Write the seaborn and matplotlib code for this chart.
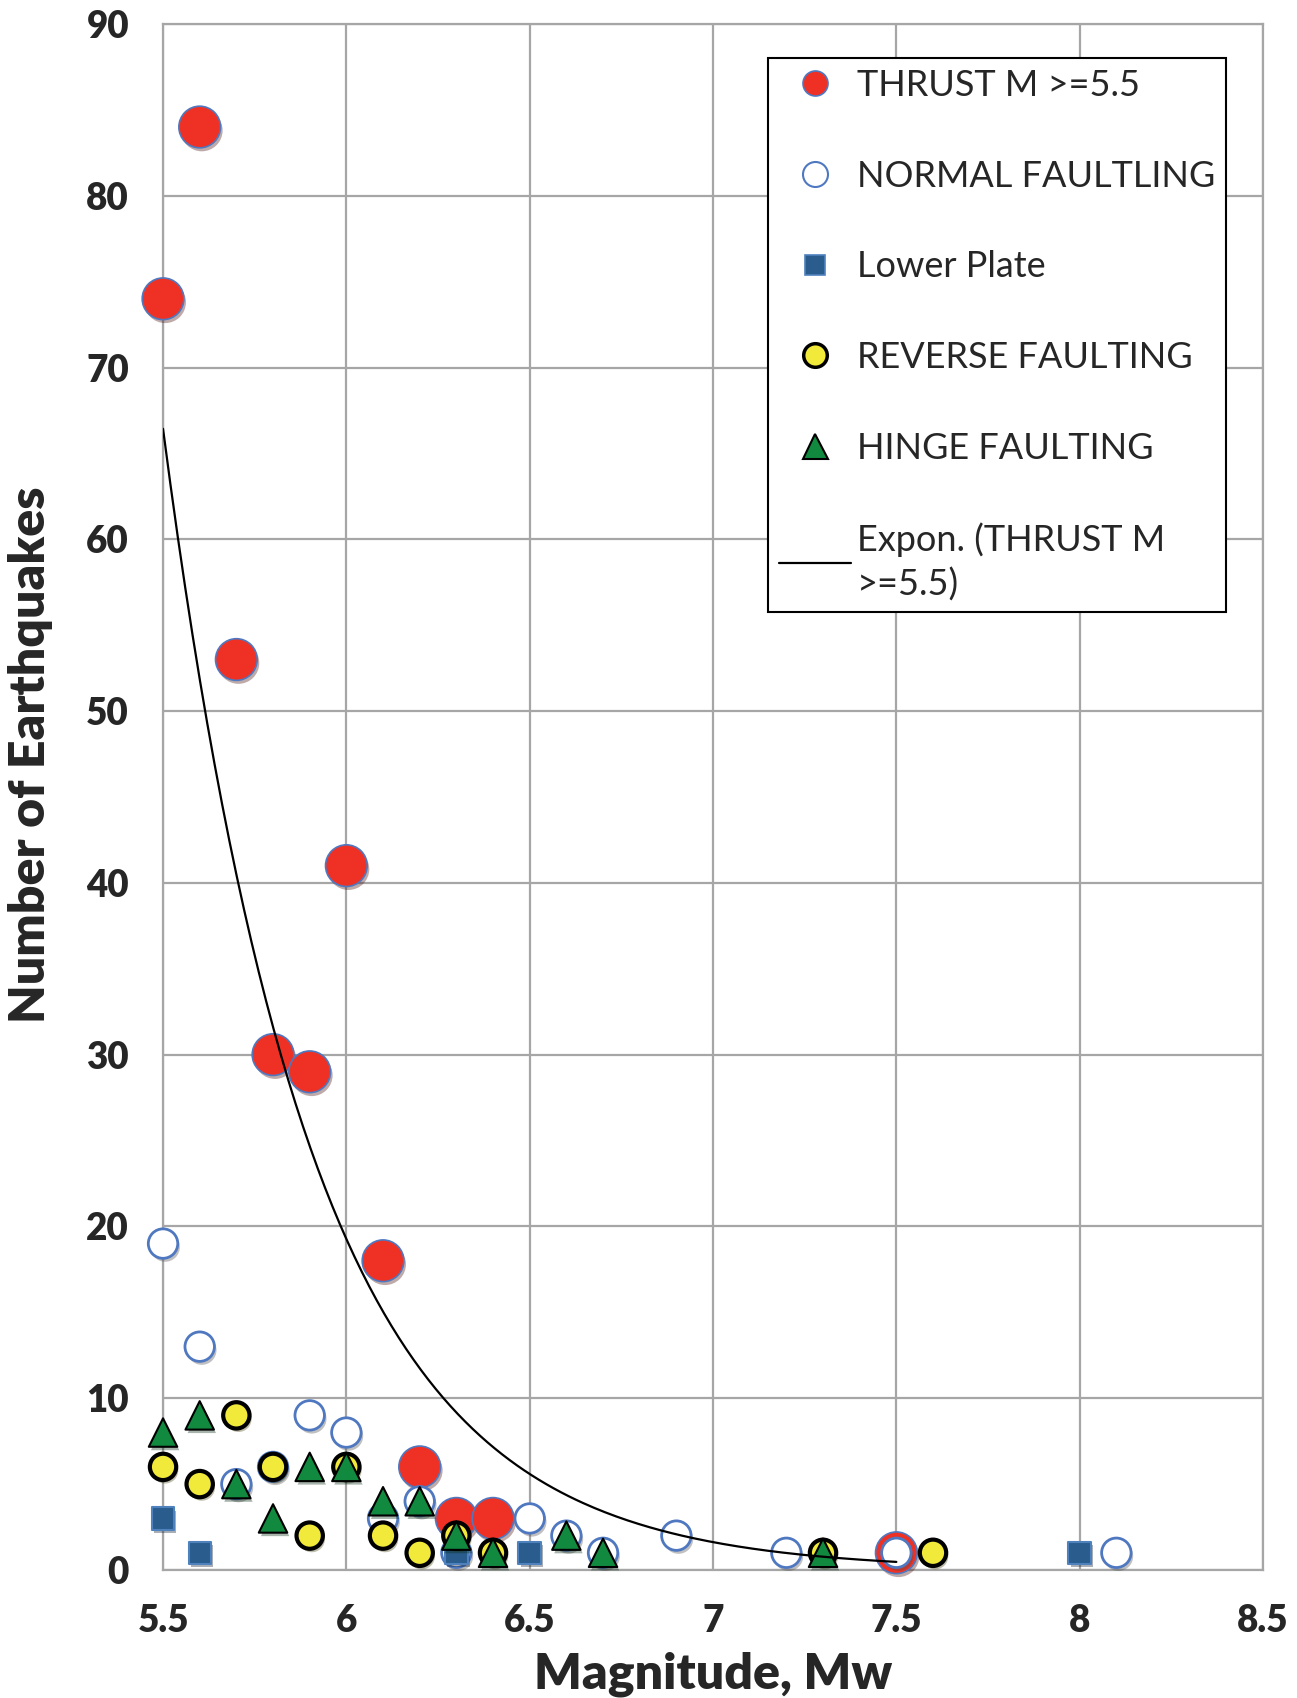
import numpy as np
import pandas as pd
import matplotlib
matplotlib.use("Agg")
import matplotlib.pyplot as plt
import matplotlib.patheffects as pe
from matplotlib.lines import Line2D
import seaborn as sns

# data (magnitude, count)
thrust_mag = [5.5, 5.6, 5.7, 5.8, 5.9, 6.0, 6.1, 6.2, 6.3, 6.4, 7.5]
thrust_n = [74, 84, 53, 30, 29, 41, 18, 6, 3, 3, 1]

normal_mag = [5.5, 5.6, 5.7, 5.8, 5.9, 6.0, 6.1, 6.2, 6.3, 6.5, 6.6, 6.7, 6.9, 7.2, 7.5, 8.1]
normal_n = [19, 13, 5, 6, 9, 8, 3, 4, 1, 3, 2, 1, 2, 1, 1, 1]

lower_mag = [5.5, 5.6, 6.3, 6.5, 8.0]
lower_n = [3, 1, 1, 1, 1]

reverse_mag = [5.5, 5.6, 5.7, 5.8, 5.9, 6.0, 6.1, 6.2, 6.3, 6.4, 7.3, 7.6]
reverse_n = [6, 5, 9, 6, 2, 6, 2, 1, 2, 1, 1, 1]

hinge_mag = [5.5, 5.6, 5.7, 5.8, 5.9, 6.0, 6.1, 6.2, 6.3, 6.4, 6.6, 6.7, 7.3]
hinge_n = [8, 9, 5, 3, 6, 6, 4, 4, 2, 1, 2, 1, 1]

# exponential trendline fitted to thrust points (like Excel's Expon.)
b, ln_a = np.polyfit(thrust_mag, np.log(thrust_n), 1)
fit_x = np.linspace(min(thrust_mag), max(thrust_mag), 200)
fit_y = np.exp(ln_a) * np.exp(b * fit_x)

sns.set_style("white")
plt.rcParams['font.family'] = ['Lato', 'DejaVu Sans']

fig = plt.figure(figsize=(12.97, 16.98), dpi=100)
ax = fig.add_axes([0.1257, 0.0754, 0.8481, 0.9105])

shadow = [pe.SimplePatchShadow(offset=(1.5, -2.5), alpha=0.35), pe.Normal()]

RED = '#EE3124'
BLUE_EDGE = '#4F78C0'
SQ = '#2A5D8E'
YEL = '#F2EA3A'
GRN = '#118A40'

series = [
    (thrust_mag, thrust_n, dict(color=RED, marker='o', s=900, edgecolor=BLUE_EDGE, linewidth=1.2)),
    (normal_mag, normal_n, dict(color='white', marker='o', s=450, edgecolor=BLUE_EDGE, linewidth=2)),
    (lower_mag, lower_n, dict(color=SQ, marker='s', s=260, edgecolor='#4F81BD', linewidth=1.5)),
    (reverse_mag, reverse_n, dict(color=YEL, marker='o', s=360, edgecolor='black', linewidth=3)),
    (hinge_mag, hinge_n, dict(color=GRN, marker='^', s=420, edgecolor='black', linewidth=1.5)),
]
for i, (xs, ys, kw) in enumerate(series):
    df = pd.DataFrame({'Mw': xs, 'N': ys})
    sns.scatterplot(data=df, x='Mw', y='N', ax=ax, clip_on=False, zorder=3 + i, legend=False, **kw)
    ax.collections[-1].set_path_effects(shadow)

sns.lineplot(x=fit_x, y=fit_y, ax=ax, color='black', linewidth=1.6, zorder=10)

ax.set_xlim(5.5, 8.5)
ax.set_ylim(0, 90)
ax.set_xticks(np.arange(5.5, 8.51, 0.5))
ax.set_xticklabels(['5.5', '6', '6.5', '7', '7.5', '8', '8.5'])
ax.set_yticks(range(0, 91, 10))
ax.grid(True, color='#A6A6A6', linewidth=1.6)
ax.set_axisbelow(True)
for sp in ax.spines.values():
    sp.set_color('#A6A6A6')
    sp.set_linewidth(1.6)
ax.tick_params(axis='both', direction='out', length=9.5, width=1.6, color='#A6A6A6',
               labelsize=26.5, pad=15)
for lab in ax.get_xticklabels() + ax.get_yticklabels():
    lab.set_fontweight('heavy')

ax.set_xlabel('Magnitude, Mw', fontsize=36, fontweight='heavy')
ax.set_ylabel('Number of Earthquakes', fontsize=36, fontweight='heavy')
ax.xaxis.set_label_coords(0.5, -0.053)
ax.yaxis.set_label_coords(-0.1, 0.527)

handles = [
    Line2D([], [], ls='none', marker='o', ms=18, mfc=RED, mec=BLUE_EDGE, mew=1.2),
    Line2D([], [], ls='none', marker='o', ms=18, mfc='white', mec=BLUE_EDGE, mew=1.5),
    Line2D([], [], ls='none', marker='s', ms=15, mfc=SQ, mec='#4F81BD', mew=1.2),
    Line2D([], [], ls='none', marker='o', ms=17, mfc=YEL, mec='black', mew=2.5),
    Line2D([], [], ls='none', marker='^', ms=18, mfc=GRN, mec='black', mew=1.5),
    Line2D([], [], color='black', lw=1.6),
]
labels = ['THRUST M >=5.5', 'NORMAL FAULTLING', 'Lower Plate', 'REVERSE FAULTING',
          'HINGE FAULTING', 'Expon. (THRUST M\n>=5.5)']
leg = ax.legend(handles, labels, loc='upper right', bbox_to_anchor=(0.966, 0.978),
                borderaxespad=0, fontsize=26, frameon=True, fancybox=False,
                edgecolor='black', framealpha=1, labelspacing=1.6, borderpad=0.3,
                handlelength=2.0, handletextpad=0.15)
leg.get_frame().set_linewidth(1.5)
leg.get_texts()[-1].set_linespacing(1.35)
leg.set_zorder(20)

fig.savefig('out.png', dpi=100)
